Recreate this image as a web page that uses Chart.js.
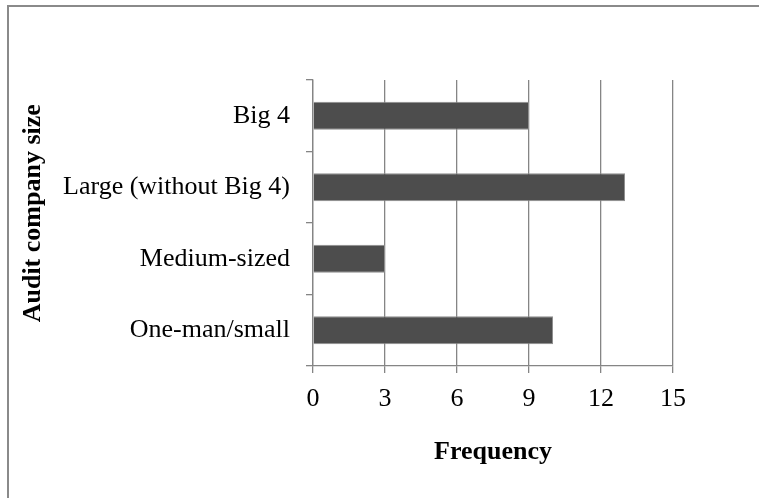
<!DOCTYPE html>
<html>
<head>
<meta charset="utf-8">
<title>Audit company size</title>
<script src="https://cdn.jsdelivr.net/npm/chart.js@4/dist/chart.umd.min.js"></script>
<style>
    html, body { margin: 0; padding: 0; background: #fff; overflow: hidden; }
    #wrap { position: relative; width: 759px; height: 498px; }
    #frame {
        position: absolute; left: 7px; top: 5px;
        width: 800px; height: 600px;
        border: 2px solid #8a8a8a;
        box-sizing: border-box;
    }
    #chart { position: absolute; left: 0; top: 0; }
</style>
</head>
<body>
<div id="wrap">
    <div id="frame"></div>
    <canvas id="chart" width="759" height="498"></canvas>
</div>
<script>
// Data
const categories = ['Big 4', 'Large (without Big 4)', 'Medium-sized', 'One-man/small'];
const frequency = [9, 13, 3, 10];
const xTicks = [0, 3, 6, 9, 12, 15];

const serif = '"Liberation Serif", "Times New Roman", serif';
const gridGrey = '#858585';

document.addEventListener('DOMContentLoaded', function() {
    const ctx = document.getElementById('chart');

    new Chart(ctx, {
        type: 'bar',
        data: {
            labels: categories,
            datasets: [{
                label: 'Frequency',
                data: frequency,
                backgroundColor: '#4d4d4d',
                borderColor: '#8f8f8f',
                borderWidth: 1,
                barPercentage: 0.39,
                categoryPercentage: 1
            }]
        },
        options: {
            indexAxis: 'y',
            responsive: false,
            animation: false,
            layout: {
                padding: { left: 10, top: 80, right: 86, bottom: 20 }
            },
            plugins: {
                legend: { display: false },
                tooltip: { enabled: false }
            },
            scales: {
                x: {
                    min: xTicks[0],
                    max: xTicks[xTicks.length - 1],
                    afterBuildTicks: function(scale) {
                        scale.ticks = xTicks.map(v => ({ value: v }));
                    },
                    afterFit: function(scale) {
                        scale.height = 112;
                    },
                    grid: {
                        color: gridGrey,
                        lineWidth: 1.3,
                        tickLength: 7
                    },
                    border: { color: gridGrey, width: 1.3 },
                    ticks: {
                        color: '#000',
                        padding: 11,
                        font: { family: serif, size: 26 }
                    },
                    title: {
                        display: true,
                        text: 'Frequency',
                        color: '#000',
                        padding: { top: 0, bottom: 10 },
                        font: { family: serif, size: 26, weight: 'bold' }
                    }
                },
                y: {
                    afterFit: function(scale) {
                        scale.width = 303;
                    },
                    grid: {
                        drawOnChartArea: false,
                        color: gridGrey,
                        lineWidth: 1.3,
                        tickLength: 7,
                        offset: true
                    },
                    border: { color: gridGrey, width: 1.3 },
                    ticks: {
                        color: '#000',
                        padding: 16,
                        font: { family: serif, size: 26 }
                    },
                    title: {
                        display: true,
                        // leading spaces nudge the rotated title up a little, as in the original
                        text: '   Audit company size',
                        color: '#000',
                        padding: { top: 8, bottom: 0 },
                        font: { family: serif, size: 26, weight: 'bold' }
                    }
                }
            }
        }
    });
});
</script>
</body>
</html>
